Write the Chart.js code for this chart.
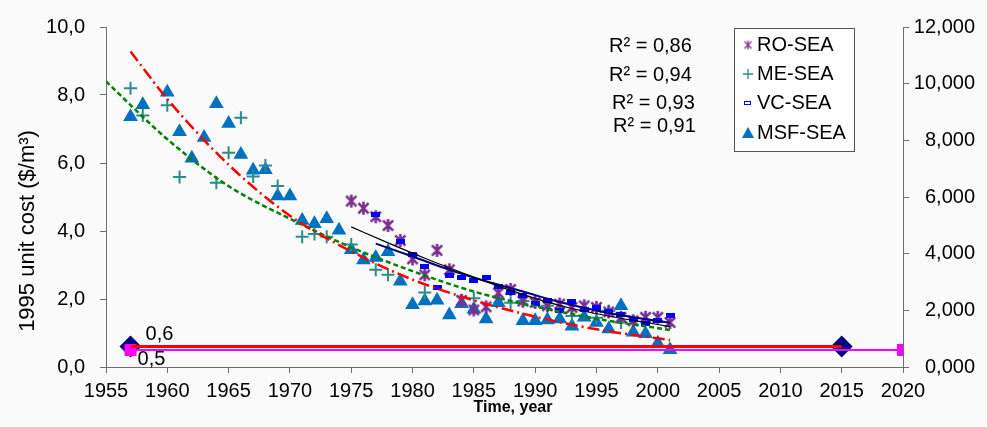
<!DOCTYPE html>
<html><head><meta charset="utf-8">
<script src="https://cdn.jsdelivr.net/npm/chart.js@4.4.0/dist/chart.umd.min.js"></script>
<style>html,body{margin:0;padding:0;background:#fafafa;}canvas{display:block;}</style>
</head><body>
<canvas id="c" width="987" height="427"></canvas>
<script>
// ---------- tick labels ----------
const xTickLabels = ['1955','1960','1965','1970','1975','1980','1985','1990','1995','2000','2005','2010','2015','2020'];
const yLeftTickLabels = ['0,0','2,0','4,0','6,0','8,0','10,0'];
const yRightTickLabels = ['0,000','2,000','4,000','6,000','8,000','10,000','12,000'];

// ---------- series ----------
const seriesNames = ['RO-SEA','ME-SEA','VC-SEA','MSF-SEA'];

const roYears = [1975,1976,1977,1978,1979,1980,1981,1982,1983,1984,1985,1986,1987,1988,1989,1990,1991,1992,1993,1994,1995,1996,1997,1998,1999,2000,2001];
const roCost  = [4.88,4.67,4.42,4.16,3.72,3.18,2.71,3.43,2.86,1.96,1.68,1.77,2.18,2.28,1.94,1.90,1.80,1.85,1.75,1.80,1.75,1.62,1.46,1.36,1.46,1.46,1.31];

const meYears = [1957,1958,1960,1961,1964,1965,1966,1967,1968,1969,1971,1972,1973,1975,1977,1978,1981,1985,1988,1989,1991,1993,1995,1996,1997];
const meCost  = [8.20,7.40,7.70,5.59,5.42,6.30,7.33,5.60,5.93,5.32,3.83,3.91,3.83,3.60,2.86,2.71,2.19,2.02,1.89,1.94,1.80,1.50,1.45,1.65,1.31];

const vcYears = [1977,1979,1980,1981,1982,1983,1984,1985,1986,1987,1988,1989,1990,1991,1992,1993,1994,1995,1996,1997,1998,1999,2000,2001];
const vcCost  = [4.48,3.70,3.32,2.96,2.33,2.69,2.62,2.54,2.64,2.38,2.20,2.09,1.86,1.96,1.67,1.93,1.70,1.75,1.63,1.55,1.41,1.28,1.38,1.51];

const msfYears = [1957,1958,1960,1961,1962,1963,1964,1965,1966,1967,1968,1969,1970,1971,1972,1973,1974,1975,1976,1977,1978,1979,1980,1981,1982,1983,1984,1985,1986,1987,1989,1990,1991,1992,1993,1994,1995,1996,1997,1998,1999,2000,2001];
const msfCost  = [7.36,7.71,8.08,6.92,6.14,6.75,7.74,7.16,6.25,5.79,5.80,5.03,5.03,4.31,4.21,4.36,4.02,3.45,3.15,3.22,3.39,2.52,1.83,1.94,1.96,1.53,1.86,1.70,1.41,1.89,1.36,1.36,1.38,1.41,1.20,1.46,1.31,1.12,1.80,1.02,0.98,0.70,0.51];

// ---------- trend lines ----------
const msfTrendYears = [1957,1960,1965,1970,1975,1980,1985,1990,1995,2001];
const msfTrend      = [9.28,7.88,5.95,4.45,3.40,2.57,1.96,1.48,1.11,0.79];
const meTrendYears  = [1955,1960,1965,1970,1975,1980,1985,1990,1995,2001];
const meTrend       = [8.40,6.70,5.32,4.36,3.52,2.82,2.22,1.78,1.42,1.09];
const roTrendYears  = [1975,1978,1981,1984,1987,1990,1993,1996,1998,2001];
const roTrend       = [4.12,3.65,3.20,2.78,2.38,2.02,1.72,1.50,1.37,1.19];
const vcTrendYears  = [1977,1980,1983,1986,1989,1992,1995,1998,2001];
const vcTrend       = [3.63,3.25,2.86,2.52,2.22,1.91,1.66,1.46,1.30];

// ---------- reference levels ----------
const levelHighYears = [1957,2015];
const levelHigh      = [0.6,0.6];
const levelLowYears  = [1957,2020];
const levelLow       = [0.5,0.5];
const levelLabels    = ['0,6','0,5'];

const r2Labels = ['R\u00B2 = 0,86','R\u00B2 = 0,94','R\u00B2 = 0,93','R\u00B2 = 0,91'];
const yTitle = '1995 unit cost ($/m\u00B3)';
const xTitle = 'Time, year';

// ---------- helpers ----------
const FONT = '"Liberation Sans", Arial, sans-serif';
const pts = (xs, ys) => xs.map((x, i) => ({x, y: ys[i]}));
const C = {ro:'#7a2e8e', me:'#2b8c8c', vc:'#0000ff', msf:'#0070c0', axis:'#6e6e6e'};

function makeStar(size, color, lw){
  const c=document.createElement('canvas'); c.width=c.height=size;
  const g=c.getContext('2d'); g.strokeStyle=color; g.lineWidth=lw; g.lineCap='butt';
  const m=size/2, r=size/2-1, d=r*0.78;
  g.beginPath(); g.moveTo(m,m-r); g.lineTo(m,m+r);
  g.moveTo(m-d,m-d); g.lineTo(m+d,m+d); g.moveTo(m+d,m-d); g.lineTo(m-d,m+d); g.stroke();
  return c;
}
function makeDash(w,h,color){
  const c=document.createElement('canvas'); c.width=w; c.height=h;
  const g=c.getContext('2d'); g.fillStyle=color; g.fillRect(0,0,w,h); return c;
}
const starImg = makeStar(15, C.ro, 2.6);
const dashImg = makeDash(9, 5, C.vc);

const scatterDs = (label, data, style, color, radius, bw, order) => ({
  label, data, showLine:false, pointStyle:style, pointRadius:radius, pointHoverRadius:radius,
  pointBackgroundColor:color, pointBorderColor:color, pointBorderWidth:bw, order
});
const lineDs = (label, data, color, width, dash, order) => ({
  label, data, showLine:true, borderColor:color, borderWidth:width, borderDash:dash,
  pointRadius:0, pointHoverRadius:0, cubicInterpolationMode:'monotone', fill:false, order
});

const datasets = [
  lineDs('level 0.6 line', pts(levelHighYears, levelHigh), '#ff0000', 3, [], 1),
  Object.assign(lineDs('level 0.5', pts(levelLowYears, levelLow), '#ff00ff', 2, [], 2),
    {pointRadius:8.5, pointStyle:'rect', pointBackgroundColor:'#ff00ff', pointBorderColor:'#ff00ff', pointBorderWidth:0}),
  scatterDs('level 0.6', pts(levelHighYears, levelHigh), 'rectRot', '#000080', 11, 0, 3),
  lineDs('MSF trend', pts(msfTrendYears, msfTrend), '#ff0000', 2.5, [12,4,2,4], 4),
  lineDs('ME trend', pts(meTrendYears, meTrend), '#008000', 2.5, [5,3], 5),
  lineDs('RO trend', pts(roTrendYears, roTrend), '#000000', 1.2, [], 6),
  lineDs('VC trend', pts(vcTrendYears, vcTrend), '#000080', 2, [], 7),
  scatterDs(seriesNames[2], pts(vcYears, vcCost), dashImg, C.vc, 4, 0, 8),
  scatterDs(seriesNames[0], pts(roYears, roCost), starImg, C.ro, 7, 0, 9),
  scatterDs(seriesNames[1], pts(meYears, meCost), 'cross', C.me, 6.5, 2, 10),
  scatterDs(seriesNames[3], pts(msfYears, msfCost), 'triangle', C.msf, 8.5, 0, 11)
];

const grid = {display:true, drawOnChartArea:false, drawTicks:true, tickLength:6, tickColor:C.axis};
const border = {display:true, color:C.axis, width:1};
const tickFont = {family:FONT, size:20};

const decor = {
  id:'decor',
  beforeDraw(chart){
    const ctx=chart.ctx; ctx.save(); ctx.fillStyle='#fafafa'; ctx.fillRect(0,0,chart.width,chart.height); ctx.restore();
  },
  afterDraw(chart){
    const ctx=chart.ctx, xs=chart.scales.x, ys=chart.scales.y;
    ctx.save();
    ctx.fillStyle='#000'; ctx.textBaseline='middle'; ctx.textAlign='left';
    ctx.font='20px '+FONT;
    // level labels
    ctx.fillText(levelLabels[0], xs.getPixelForValue(levelHighYears[0])+15, ys.getPixelForValue(levelHigh[0])-12);
    ctx.fillText(levelLabels[1], xs.getPixelForValue(levelLowYears[0])+7, ys.getPixelForValue(levelLow[0])+9);
    // R² labels
    const r2X=[609,609,612,613], r2Y=[46,75,103,126];
    r2Labels.forEach((t,i)=>ctx.fillText(t, r2X[i], r2Y[i]));
    // legend
    ctx.fillStyle='#ffffff'; ctx.fillRect(734,28,120,123);
    ctx.strokeStyle='#555'; ctx.lineWidth=1; ctx.strokeRect(734.5,28.5,120,123);
    const rowY=[45,74,103,133], mx=748;
    ctx.fillStyle='#000';
    seriesNames.forEach((n,i)=>ctx.fillText(n, 757, rowY[i]));
    // markers
    ctx.drawImage(makeStar(11, C.ro, 1.2), mx-5.5, rowY[0]-5.5);
    ctx.strokeStyle=C.me; ctx.lineWidth=1.3; ctx.beginPath();
    ctx.moveTo(mx-5,rowY[1]); ctx.lineTo(mx+5,rowY[1]); ctx.moveTo(mx,rowY[1]-5); ctx.lineTo(mx,rowY[1]+5); ctx.stroke();
    ctx.strokeStyle=C.vc; ctx.lineWidth=1; ctx.strokeRect(mx-3.5,rowY[2]-1.5,6,3);
    ctx.fillStyle=C.msf; ctx.beginPath(); ctx.moveTo(mx,rowY[3]-6); ctx.lineTo(mx+6,rowY[3]+5); ctx.lineTo(mx-6,rowY[3]+5); ctx.closePath(); ctx.fill();
    // axis titles
    ctx.fillStyle='#000'; ctx.textAlign='center';
    ctx.font='bold 16px '+FONT;
    ctx.fillText(xTitle, 513, 408);
    ctx.save(); ctx.translate(28,231); ctx.rotate(-Math.PI/2);
    ctx.font='22px '+FONT; ctx.fillText(yTitle, 0, 0); ctx.restore();
    ctx.restore();
  }
};

Chart.defaults.font.family = FONT;
new Chart(document.getElementById('c'), {
  type:'scatter',
  data:{datasets},
  options:{
    responsive:false, animation:false, devicePixelRatio:1,
    layout:{padding:{top:22,right:12,left:0,bottom:0}},
    plugins:{legend:{display:false}, tooltip:{enabled:false}},
    scales:{
      x:{type:'linear', position:'bottom', min:1955, max:2020,
         ticks:{stepSize:5, autoSkip:false, maxRotation:0, padding:6, color:'#000', font:tickFont,
                callback:(v,i)=>xTickLabels[i]},
         grid, border, afterFit:s=>{s.height=60;}},
      y:{type:'linear', position:'left', min:0, max:10,
         ticks:{stepSize:2, padding:15, color:'#000', font:tickFont, callback:(v,i)=>yLeftTickLabels[i]},
         grid, border, afterFit:s=>{s.width=106;}},
      y2:{type:'linear', position:'right', min:0, max:12000, display:true,
         ticks:{stepSize:2000, padding:3, crossAlign:'far', color:'#000', font:tickFont, callback:(v,i)=>yRightTickLabels[i]},
         grid, border, afterFit:s=>{s.width=72;}}
    }
  },
  plugins:[decor]
});
</script>
</body></html>
